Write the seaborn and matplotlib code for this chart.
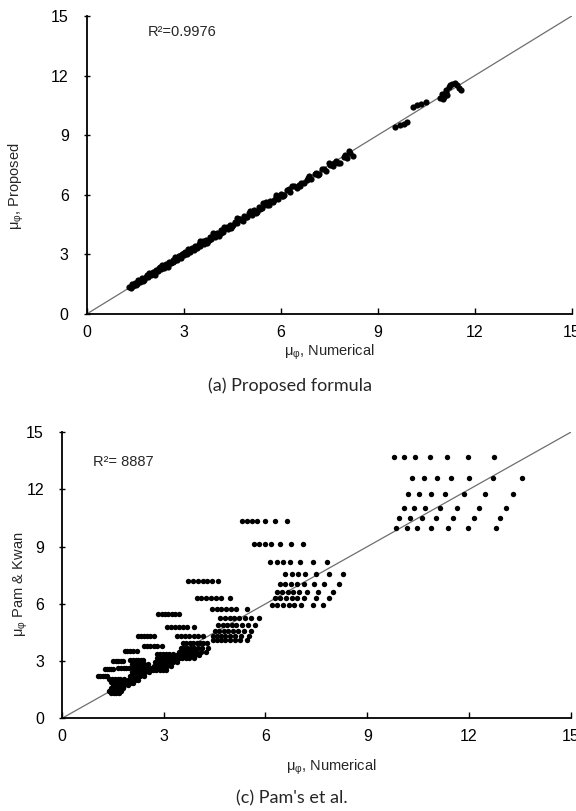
import matplotlib
matplotlib.use("Agg")
import matplotlib.pyplot as plt
import seaborn as sns
import numpy as np
import pandas as pd

# ---------------- data ----------------
axis_ticks = [0, 3, 6, 9, 12, 15]
diag = [0, 15]

# (a) proposed formula vs numerical results
numerical_a = [
    1.30, 1.42, 1.48, 1.55, 1.60, 1.66, 1.72, 1.78, 1.83, 1.90, 1.95, 2.00, 2.05, 2.10,
    2.15, 2.20, 2.25, 2.30, 2.35, 2.40, 2.45, 2.50, 2.55, 2.60, 2.66, 2.70, 2.75, 2.80,
    2.86, 2.90, 2.95, 3.00, 3.05, 3.10, 3.15, 3.20, 3.26, 3.30, 3.36, 3.40, 3.46, 3.50,
    3.56, 3.62, 3.68, 3.74, 3.80, 3.86, 3.92, 3.98, 4.04, 4.10, 4.16, 4.22, 4.30, 4.36,
    4.44, 4.50, 4.58, 4.64, 4.72, 4.80, 4.88, 4.95, 5.02, 5.10, 5.18, 5.26, 5.34, 5.42,
    5.50, 5.58, 5.66, 5.75, 5.84, 5.92, 6.00, 6.10, 6.20, 6.30, 6.40, 6.50, 6.62, 6.72,
    6.85, 6.95, 7.05, 7.15, 7.28, 7.40, 7.52, 7.62, 7.72, 7.82, 7.95, 8.05, 8.15, 8.25,
    1.36, 1.52, 1.70, 1.88, 2.08, 2.28, 2.48, 2.68, 2.84, 3.02, 3.22, 3.42, 3.60, 3.78,
    3.96, 4.14, 4.34, 4.54, 4.74, 4.92, 5.14, 5.36, 5.56, 5.78, 6.04, 6.26, 6.56, 6.80,
    7.10, 7.35, 7.66, 7.98,
    1.40, 1.58, 1.75, 1.92, 2.12, 2.32, 2.52, 2.72, 2.92, 3.12, 3.32, 3.52, 3.72, 3.90,
    4.08, 4.26, 4.46, 4.66, 4.84, 5.04, 5.24, 5.44, 5.64, 5.86, 6.08, 6.34, 6.60, 6.88,
    7.20, 7.48, 7.76, 8.10,
    9.55, 9.68, 9.80, 9.92, 10.10, 10.22, 10.35, 10.48,
    10.92, 10.98, 11.05, 11.10, 11.15, 11.20, 11.25, 11.30, 11.38, 11.45, 11.52, 11.58,
    11.02, 11.12,
]
proposed_a = [
    1.35, 1.40, 1.55, 1.50, 1.68, 1.62, 1.80, 1.70, 1.88, 1.84, 2.02, 1.95, 2.12, 2.04,
    2.22, 2.15, 2.30, 2.25, 2.42, 2.33, 2.50, 2.45, 2.62, 2.55, 2.72, 2.66, 2.82, 2.74,
    2.92, 2.86, 3.02, 2.95, 3.10, 3.04, 3.22, 3.14, 3.30, 3.25, 3.42, 3.34, 3.52, 3.44,
    3.62, 3.55, 3.75, 3.66, 3.86, 3.78, 3.98, 3.90, 4.10, 4.02, 4.22, 4.14, 4.34, 4.28,
    4.50, 4.42, 4.64, 4.56, 4.78, 4.72, 4.94, 4.86, 5.08, 5.00, 5.22, 5.16, 5.40, 5.32,
    5.56, 5.48, 5.70, 5.64, 5.88, 5.80, 6.04, 5.98, 6.24, 6.16, 6.42, 6.36, 6.62, 6.58,
    6.84, 6.78, 7.06, 6.98, 7.30, 7.22, 7.48, 7.44, 7.70, 7.62, 7.92, 7.85, 8.10, 7.98,
    1.32, 1.44, 1.74, 1.96, 2.00, 2.36, 2.40, 2.62, 2.90, 3.08, 3.28, 3.38, 3.66, 3.72,
    4.04, 4.08, 4.40, 4.48, 4.80, 4.88, 5.18, 5.30, 5.62, 5.72, 5.96, 6.30, 6.50, 6.74,
    7.12, 7.28, 7.60, 8.02,
    1.50, 1.72, 1.64, 2.08, 1.98, 2.46, 2.38, 2.86, 2.80, 3.26, 3.20, 3.66, 3.58, 4.06,
    3.94, 4.40, 4.32, 4.82, 4.70, 5.20, 5.08, 5.58, 5.50, 5.98, 5.92, 6.46, 6.46, 6.96,
    7.04, 7.58, 7.58, 8.20,
    9.42, 9.50, 9.58, 9.66, 10.42, 10.50, 10.58, 10.68,
    10.90, 11.10, 10.95, 11.30, 11.05, 11.45, 11.55, 11.60, 11.62, 11.55, 11.40, 11.30,
    10.80, 11.20,
]

# (c) Pam & Kwan: each discrete predicted level with its numerical results
pam_levels = [
    13.69, 12.62, 11.78, 11.04, 10.50, 9.98,
    10.36, 9.12, 8.20, 7.55, 7.03, 6.64, 6.29, 5.94,
    7.22, 6.29, 5.72, 5.24, 4.89, 4.58, 4.33, 4.11,
    5.45, 4.80, 4.32, 3.93, 3.70, 3.50, 3.30, 3.15,
    4.32, 3.79, 3.36, 3.15, 2.95, 2.75, 2.55,
    3.54, 3.06, 2.85, 2.62, 2.42, 2.22, 2.02, 1.85,
    3.00, 2.62, 2.57, 2.22, 2.05, 1.90, 1.75, 1.60, 1.45, 1.32,
]
pam_numerical = [
    [9.79, 10.07, 10.42, 10.84, 11.35, 11.97, 12.74],
    [10.33, 10.66, 11.07, 11.48, 12.01, 12.70, 13.57],
    [10.21, 10.53, 10.88, 11.30, 11.84, 12.48, 13.29],
    [10.07, 10.38, 10.70, 11.15, 11.66, 12.29, 13.10],
    [9.93, 10.26, 10.61, 11.02, 11.52, 12.15, 12.92],
    [9.84, 10.16, 10.48, 10.88, 11.39, 11.98, 12.79],
    [5.30, 5.45, 5.60, 5.76, 6.00, 6.27, 6.63],
    [5.66, 5.82, 5.99, 6.16, 6.43, 6.76, 7.12],
    [6.14, 6.33, 6.51, 6.71, 7.02, 7.41, 7.81],
    [6.58, 6.78, 6.97, 7.17, 7.49, 7.86, 8.30],
    [6.43, 6.59, 6.76, 6.94, 7.14, 7.43, 7.73, 8.18],
    [6.33, 6.48, 6.65, 6.80, 6.99, 7.22, 7.56, 8.00],
    [6.28, 6.43, 6.61, 6.78, 6.94, 7.14, 7.48, 7.86],
    [6.19, 6.35, 6.51, 6.68, 6.84, 7.04, 7.41, 7.71],
    [3.73, 3.87, 4.01, 4.15, 4.29, 4.42, 4.61],
    [3.97, 4.11, 4.25, 4.39, 4.53, 4.70, 4.96],
    [4.42, 4.56, 4.70, 4.84, 4.98, 5.13, 5.45],
    [4.66, 4.80, 4.94, 5.08, 5.22, 5.40, 5.58, 5.81],
    [4.61, 4.74, 4.87, 5.00, 5.14, 5.30, 5.48, 5.69],
    [4.51, 4.64, 4.77, 4.90, 5.04, 5.20, 5.38, 5.57],
    [4.46, 4.58, 4.70, 4.82, 4.95, 5.10, 5.28, 5.50],
    [4.46, 4.58, 4.70, 4.82, 4.95, 5.10, 5.25, 5.45],
    [2.84, 2.94, 3.04, 3.14, 3.24, 3.34, 3.46],
    [3.10, 3.22, 3.34, 3.46, 3.58, 3.70, 3.90],
    [3.40, 3.52, 3.64, 3.76, 3.88, 4.00, 4.17],
    [3.57, 3.67, 3.77, 3.87, 3.97, 4.07, 4.17, 4.27],
    [3.50, 3.60, 3.70, 3.80, 3.90, 4.00, 4.12, 4.30],
    [3.45, 3.55, 3.65, 3.75, 3.85, 3.95, 4.10, 4.25],
    [3.40, 3.50, 3.60, 3.70, 3.80, 3.92, 4.05],
    [3.35, 3.45, 3.55, 3.65, 3.75, 3.88],
    [2.25, 2.34, 2.43, 2.52, 2.61, 2.72],
    [2.43, 2.52, 2.61, 2.70, 2.80, 2.94],
    [2.79, 2.88, 2.97, 3.06, 3.16, 3.28],
    [2.80, 2.90, 3.00, 3.10, 3.20, 3.32, 3.45],
    [2.75, 2.85, 2.95, 3.05, 3.15, 3.28, 3.40],
    [2.70, 2.80, 2.90, 3.00, 3.10, 3.22],
    [2.68, 2.78, 2.88, 2.98, 3.08],
    [1.86, 1.93, 2.00, 2.08, 2.20],
    [2.01, 2.09, 2.17, 2.25, 2.33, 2.40],
    [2.05, 2.14, 2.23, 2.32, 2.42, 2.55],
    [2.10, 2.20, 2.30, 2.40, 2.50, 2.62, 2.75],
    [2.05, 2.15, 2.25, 2.35, 2.45, 2.58],
    [2.00, 2.10, 2.20, 2.30, 2.42],
    [1.95, 2.05, 2.15, 2.25],
    [1.90, 2.00, 2.10],
    [1.51, 1.58, 1.66, 1.74, 1.81],
    [1.66, 1.74, 1.82, 1.90, 1.98, 2.10],
    [1.27, 1.33, 1.39, 1.45, 1.51],
    [1.07, 1.13, 1.20, 1.26, 1.32],
    [1.40, 1.48, 1.56, 1.64, 1.72, 1.82],
    [1.45, 1.53, 1.61, 1.69, 1.78, 1.90],
    [1.50, 1.58, 1.66, 1.74, 1.84, 1.96],
    [1.45, 1.53, 1.61, 1.70, 1.80],
    [1.40, 1.48, 1.56, 1.65, 1.75],
    [1.45, 1.52, 1.60, 1.68],
]

df_a = pd.DataFrame({"numerical": numerical_a, "proposed": proposed_a})
df_c = pd.DataFrame(
    [(x, lvl) for lvl, xs in zip(pam_levels, pam_numerical) for x in xs],
    columns=["numerical", "pam"],
)
df_diag = pd.DataFrame({"x": diag, "y": diag})

# ---------------- style ----------------
sns.set_style("ticks")
num_font = ["Liberation Sans", "DejaVu Sans"]
cap_font = ["Lato", "Open Sans", "DejaVu Sans"]
plt.rcParams["font.family"] = num_font
plt.rcParams["mathtext.fontset"] = "custom"
plt.rcParams["mathtext.rm"] = "Liberation Sans"

fig = plt.figure(figsize=(5.76, 8.11), dpi=100)
ax_a = fig.add_axes([0.1505, 0.6128, 0.8420, 0.3674])
ax_c = fig.add_axes([0.1076, 0.1143, 0.8832, 0.3527])

mu = r"μ$_{\mathregular{φ}}$"


def style_axes(ax, ylab, ylab_xy, xlab_xy, xpad):
    sns.lineplot(data=df_diag, x="x", y="y", ax=ax, color="#6e6e6e", linewidth=0.9)
    ax.set_xlim(0, 15)
    ax.set_ylim(0, 15)
    ax.set_xticks(axis_ticks)
    ax.set_yticks(axis_ticks)
    sns.despine(ax=ax)
    for s in ("left", "bottom"):
        ax.spines[s].set_linewidth(1.3)
        ax.spines[s].set_color("black")
    ax.tick_params(axis="x", direction="in", length=4.5, width=1.0,
                   labelsize=11.5, pad=xpad, colors="black")
    ax.tick_params(axis="y", direction="inout", length=4, width=1.0,
                   labelsize=11.5, pad=11, colors="black")
    ax.set_xlabel(mu + ", Numerical", fontsize=10.5, va="top")
    ax.set_ylabel(ylab, fontsize=10.5)
    ax.xaxis.set_label_coords(*xlab_xy)
    ax.yaxis.set_label_coords(*ylab_xy)


sns.scatterplot(data=df_a, x="numerical", y="proposed", ax=ax_a,
                color="black", s=20, linewidth=0, zorder=3)
style_axes(ax_a, mu + ", Proposed", (-0.125, 0.43), (0.50, -0.095), 8)
ax_a.text(1.9, 14.2, "R²=0.9976", fontsize=10.5, va="center", ha="left")

sns.scatterplot(data=df_c, x="numerical", y="pam", ax=ax_c,
                color="black", s=15, linewidth=0, zorder=3)
style_axes(ax_c, mu + " Pam & Kwan", (-0.062, 0.47), (0.53, -0.135), 8)
ax_c.text(0.9, 13.44, "R²= 8887", fontsize=10.5, va="center", ha="left")

fig.text(0.504, 1 - 386 / 811, "(a) Proposed formula", family=cap_font,
         fontsize=13, ha="center", va="center")
fig.text(0.507, 1 - 798 / 811, "(c) Pam's et al.", family=cap_font,
         fontsize=13, ha="center", va="center")

fig.savefig("out.png", dpi=100)
